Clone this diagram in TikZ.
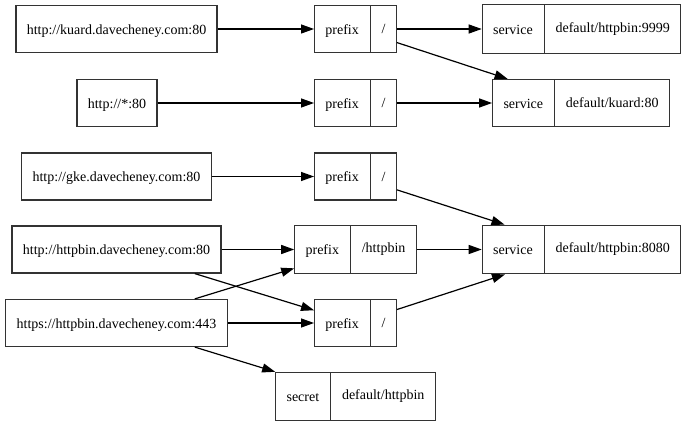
\documentclass[tikz,border=0pt]{standalone}
\usepackage{fontspec}
\setmainfont{Liberation Serif}
\usetikzlibrary{shapes.multipart}
\usetikzlibrary{arrows.meta}

\tikzset{
	host/.style={draw=black!80, line width=1.2pt, inner xsep=10.8pt, inner ysep=17pt,
		text height=11.6pt, text depth=1.4pt},
	record/.style={host, rectangle split, rectangle split horizontal, rectangle split parts=2},
	edge/.style={-{Triangle[length=13pt,width=9pt]}, line width=1.2pt}
}

\begin{document}
\begin{tikzpicture}[x=1pt, y=-1pt, font=\fontsize{14}{16}\selectfont]
	
	\useasboundingbox (0,0) rectangle (685,427);
	
	\node [host] (kuard) at (116.5,29) {http://kuard.davecheney.com:80};
	\node [host] (star) at (117,103) {http://*:80};
	\node [host] (gke) at (116.5,176.5) {http://gke.davecheney.com:80};
	\node [host] (httpbin) at (116.5,249.5) {http://httpbin.davecheney.com:80};
	\node [host] (https) at (116.5,323) {https://httpbin.davecheney.com:443};
	
	\node [record] (prefA) at (355.5,29) {prefix \nodepart{two} /};
	\node [record] (prefB) at (355.5,103) {prefix \nodepart{two} /};
	\node [record] (prefC) at (355.5,176.5) {prefix \nodepart{two} /};
	\node [record] (prefBin) at (355.5,249.5) {prefix \nodepart{two} /httpbin};
	\node [record] (prefD) at (355.5,323) {prefix \nodepart{two} /};
	\node [record] (secret) at (355.5,396.5) {secret \nodepart{two} default/httpbin};
	
	\node [record] (svcBin) at (581.5,29) {service \nodepart{two} default/httpbin:9999};
	\node [record] (svcKuard) at (581,103) {service \nodepart{two} default/kuard:80};
	\node [record] (svcMain) at (581.5,249.5) {service \nodepart{two} default/httpbin:8080};
	
	\draw [edge] (kuard) -- (prefA);
	\draw [edge] (star) -- (prefB);
	\draw [edge] (gke) -- (prefC);
	\draw [edge] (httpbin) -- (prefBin);
	\draw [edge] (httpbin) -- (prefD);
	\draw [edge] (https) -- (prefBin);
	\draw [edge] (https) -- (prefD);
	\draw [edge] (https) -- (secret);
	
	\draw [edge] (prefA) -- (svcBin);
	\draw [edge] (prefA) -- (svcKuard);
	\draw [edge] (prefB) -- (svcKuard);
	\draw [edge] (prefC) -- (svcMain);
	\draw [edge] (prefBin) -- (svcMain);
	\draw [edge] (prefD) -- (svcMain);
	
\end{tikzpicture}
\end{document}
